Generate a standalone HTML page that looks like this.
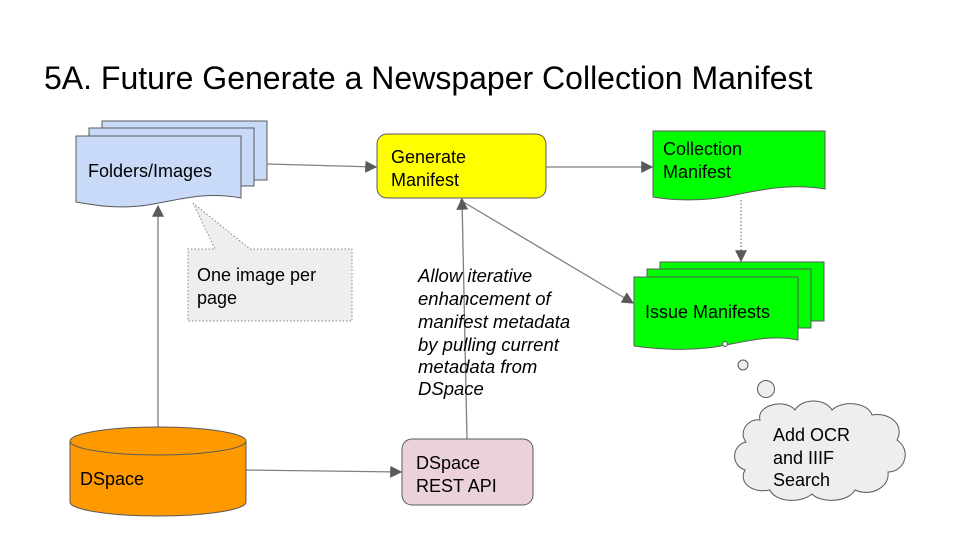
<!DOCTYPE html>
<html><head><meta charset="utf-8"><style>
html,body{margin:0;padding:0;background:#fff;}
svg{display:block;font-family:"Liberation Sans",Arial,sans-serif;}
</style></head><body>
<svg width="960" height="540" viewBox="0 0 960 540" xmlns="http://www.w3.org/2000/svg">
<defs>
<marker id="ah2" viewBox="0 0 10 10" refX="9" refY="5" markerWidth="12" markerHeight="12" markerUnits="userSpaceOnUse" orient="auto"><path d="M0,0 L10,5 L0,10 z" fill="#595959"/></marker>
</defs>
<rect width="960" height="540" fill="#fff"/>
<text x="44" y="89" font-size="32" fill="#000">5A. Future Generate a Newspaper Collection Manifest</text>

<!-- Folders/Images stack -->
<g stroke="#595959" stroke-width="1" fill="#c9daf8">
<rect x="102" y="121" width="165" height="59"/>
<rect x="89" y="128" width="165" height="58"/>
<path d="M76,136 H241 V198 C200,190 170,203 140,206 C110,209 90,204 76,202 Z"/>
</g>
<text x="88" y="177" font-size="18">Folders/Images</text>

<!-- callout -->
<path d="M193,203 L215,249 L188,249 L188,321 L352,321 L352,249 L250,249 Z" fill="#eeeeee" stroke="#888" stroke-width="1" stroke-dasharray="1.5,2"/>
<text x="197" y="281" font-size="18">One image per</text>
<text x="197" y="304" font-size="18">page</text>

<!-- Generate Manifest -->
<rect x="377" y="134" width="169" height="64" rx="10" fill="#ffff00" stroke="#595959"/>
<text x="391" y="163" font-size="18">Generate</text>
<text x="391" y="186" font-size="18">Manifest</text>

<!-- Collection Manifest -->
<path d="M653,131 H825 V189 C790,183 760,190 730,196 C700,202 670,200 653,197 Z" fill="#00ff00" stroke="#595959"/>
<text x="663" y="155" font-size="18">Collection</text>
<text x="663" y="178" font-size="18">Manifest</text>

<!-- Issue Manifests -->
<g stroke="#595959" stroke-width="1" fill="#00ff00">
<rect x="660" y="262" width="164" height="59"/>
<rect x="647" y="269" width="164" height="59"/>
<path d="M634,277 H798 V340 C770,334 745,342 715,347 C685,351 655,349 634,346 Z"/>
</g>
<text x="645" y="318" font-size="18">Issue Manifests</text>

<!-- connectors -->
<line x1="267" y1="164" x2="376" y2="167" stroke="#7f7f7f" stroke-width="1.3" marker-end="url(#ah2)"/>
<line x1="546" y1="167" x2="652" y2="167" stroke="#7f7f7f" stroke-width="1.3" marker-end="url(#ah2)"/>
<line x1="460" y1="200" x2="633" y2="303" stroke="#7f7f7f" stroke-width="1.3" marker-end="url(#ah2)"/>
<line x1="467" y1="439" x2="462" y2="199" stroke="#7f7f7f" stroke-width="1.3" marker-end="url(#ah2)"/>
<line x1="158" y1="428" x2="158" y2="206" stroke="#7f7f7f" stroke-width="1.3" marker-end="url(#ah2)"/>
<line x1="246" y1="470" x2="401" y2="472" stroke="#7f7f7f" stroke-width="1.3" marker-end="url(#ah2)"/>
<line x1="741" y1="200" x2="741" y2="261" stroke="#7f7f7f" stroke-width="1.2" stroke-dasharray="1.5,2" marker-end="url(#ah2)"/>

<!-- italic note -->
<g font-size="18.5" font-style="italic">
<text x="418" y="282">Allow iterative</text>
<text x="418" y="305">enhancement of</text>
<text x="418" y="328">manifest metadata</text>
<text x="418" y="351">by pulling current</text>
<text x="418" y="373">metadata from</text>
<text x="418" y="395">DSpace</text>
</g>

<!-- DSpace cylinder -->
<path d="M70,441 V502 A88,14 0 0 0 246,502 V441" fill="#ff9900" stroke="#595959"/>
<ellipse cx="158" cy="441" rx="88" ry="14" fill="#ff9900" stroke="#595959"/>
<text x="80" y="485" font-size="18">DSpace</text>

<!-- REST API -->
<rect x="402" y="439" width="131" height="66" rx="10" fill="#ead1dc" stroke="#595959"/>
<text x="416" y="469" font-size="18">DSpace</text>
<text x="416" y="492" font-size="18">REST API</text>

<!-- thought bubbles -->
<circle cx="725" cy="344" r="2.5" fill="#eee" stroke="#595959"/>
<circle cx="743" cy="365" r="5" fill="#eee" stroke="#595959"/>
<circle cx="766" cy="389" r="8.5" fill="#eee" stroke="#595959"/>
<path d="M760,420 C756,405 785,398 795,410 C802,398 825,398 832,410 C842,400 868,402 872,415 C890,412 905,425 897,440 C912,450 905,472 888,472 C890,488 870,497 855,490 C848,503 820,503 812,494 C800,504 775,502 770,490 C752,494 738,482 745,470 C730,465 732,445 746,442 C738,432 748,418 760,420 Z" fill="#eeeeee" stroke="#595959"/>
<text x="773" y="441" font-size="18">Add OCR</text>
<text x="773" y="464" font-size="18">and IIIF</text>
<text x="773" y="486" font-size="18">Search</text>
</svg>
</body></html>
